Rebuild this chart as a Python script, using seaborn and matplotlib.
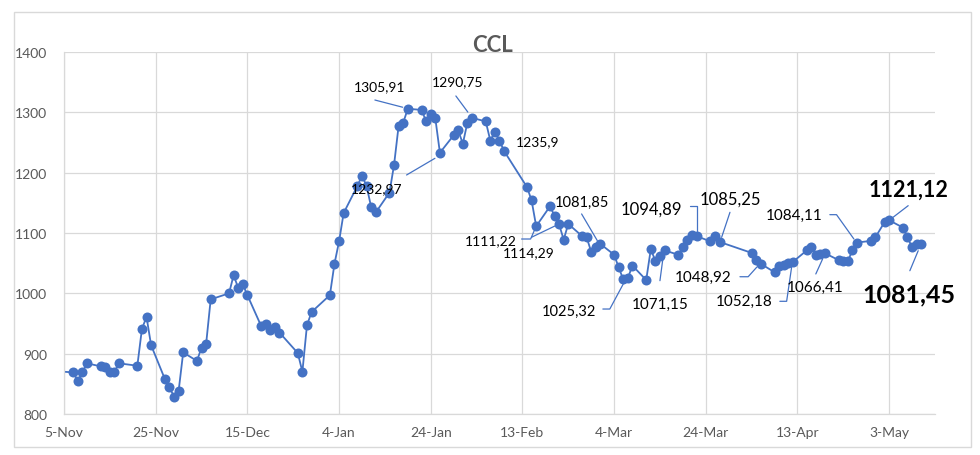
import matplotlib
matplotlib.use("Agg")
import matplotlib.pyplot as plt
import matplotlib.transforms as mtransforms
from matplotlib.lines import Line2D
from matplotlib.patches import Rectangle
import seaborn as sns
import pandas as pd

# ---------------- data ----------------
dates = [
    "2023-11-03", "2023-11-07", "2023-11-08", "2023-11-09", "2023-11-10",
    "2023-11-13", "2023-11-14", "2023-11-15", "2023-11-16", "2023-11-17",
    "2023-11-21", "2023-11-22", "2023-11-23", "2023-11-24",
    "2023-11-27", "2023-11-28", "2023-11-29", "2023-11-30", "2023-12-01",
    "2023-12-04", "2023-12-05", "2023-12-06", "2023-12-07",
    "2023-12-11", "2023-12-12", "2023-12-13", "2023-12-14", "2023-12-15",
    "2023-12-18", "2023-12-19", "2023-12-20", "2023-12-21", "2023-12-22",
    "2023-12-26", "2023-12-27", "2023-12-28", "2023-12-29",
    "2024-01-02", "2024-01-03", "2024-01-04", "2024-01-05",
    "2024-01-08", "2024-01-09", "2024-01-10", "2024-01-11", "2024-01-12",
    "2024-01-15", "2024-01-16", "2024-01-17", "2024-01-18", "2024-01-19",
    "2024-01-22", "2024-01-23", "2024-01-24", "2024-01-25", "2024-01-26",
    "2024-01-29", "2024-01-30", "2024-01-31", "2024-02-01", "2024-02-02",
    "2024-02-05", "2024-02-06", "2024-02-07", "2024-02-08", "2024-02-09",
    "2024-02-14", "2024-02-15", "2024-02-16",
    "2024-02-19", "2024-02-20", "2024-02-21", "2024-02-22", "2024-02-23",
    "2024-02-26", "2024-02-27", "2024-02-28", "2024-02-29", "2024-03-01",
    "2024-03-04", "2024-03-05", "2024-03-06", "2024-03-07", "2024-03-08",
    "2024-03-11", "2024-03-12", "2024-03-13", "2024-03-14", "2024-03-15",
    "2024-03-18", "2024-03-19", "2024-03-20", "2024-03-21", "2024-03-22",
    "2024-03-25", "2024-03-26", "2024-03-27",
    "2024-04-03", "2024-04-04", "2024-04-05",
    "2024-04-08", "2024-04-09", "2024-04-10", "2024-04-11", "2024-04-12",
    "2024-04-15", "2024-04-16", "2024-04-17", "2024-04-18", "2024-04-19",
    "2024-04-22", "2024-04-23", "2024-04-24", "2024-04-25", "2024-04-26",
    "2024-04-29", "2024-04-30", "2024-05-02", "2024-05-03",
    "2024-05-06", "2024-05-07", "2024-05-08", "2024-05-09", "2024-05-10",
]
ccl = [
    871, 869, 855, 869, 884,
    879, 878, 870, 870, 884,
    880, 941, 961, 914,
    858, 844, 829, 838, 902,
    888, 910, 916, 990,
    1000, 1030, 1009, 1015, 997,
    946, 950, 940, 944, 935,
    901, 870, 947, 969,
    997, 1049, 1086, 1133,
    1178, 1195, 1178, 1143, 1134,
    1167, 1213, 1278, 1283, 1305.91,
    1304, 1285, 1297, 1290, 1232.97,
    1262, 1270, 1248, 1283, 1290.75,
    1285, 1253, 1268, 1253, 1235.9,
    1176, 1154, 1111.22,
    1144, 1129, 1114.29, 1089, 1115,
    1095, 1093, 1069, 1076, 1081.85,
    1064, 1043, 1023, 1025.32, 1046,
    1022, 1073, 1054, 1062, 1071.15,
    1064, 1076, 1089, 1097, 1094.89,
    1086, 1095, 1085.25,
    1067, 1055, 1048.92,
    1035, 1045, 1047, 1050, 1052.18,
    1071, 1076, 1063, 1065, 1066.41,
    1055, 1054, 1054, 1071, 1084.11,
    1087, 1093, 1118, 1121.12,
    1109, 1093, 1076, 1082, 1081.45,
]

x_tick_dates = ["2023-11-05", "2023-11-25", "2023-12-15", "2024-01-04", "2024-01-24",
                "2024-02-13", "2024-03-04", "2024-03-24", "2024-04-13", "2024-05-03"]
x_tick_labels = ["5-Nov", "25-Nov", "15-Dec", "4-Jan", "24-Jan",
                 "13-Feb", "4-Mar", "24-Mar", "13-Apr", "3-May"]
y_ticks = [800, 900, 1000, 1100, 1200, 1300, 1400]
x_range = ["2023-11-05", "2024-05-13"]

label_dates = ["2024-01-19", "2024-02-02", "2024-01-26", "2024-02-09", "2024-02-16",
               "2024-02-21", "2024-03-01", "2024-03-07", "2024-03-15", "2024-03-22",
               "2024-03-27", "2024-04-05", "2024-04-12", "2024-04-19", "2024-04-26",
               "2024-05-03", "2024-05-10"]

title = "CCL"

# ---------------- style / layout ----------------
# per label: text offset (pt), leader vertices (pt, relative to point), fontsize, bold
label_style = [
    ((-20.1, 16.4), [(-23.7, 6.3), (-3.7, 1.1)], 10, False),
    ((-10.2, 26.6), [(-11.6, 15.8), (-3.0, 4.2)], 10, False),
    ((-45.4, -25.3), [(-24.0, -16.0), (-3.6, -4.0)], 10, False),
    ((24.2, 7.4), None, 10, False),
    ((-32.8, -9.9), [(-10.5, -9.2), (-4.0, -9.2), (-1.3, -3.0)], 10, False),
    ((-21.5, -20.1), [(-19.9, -9.3), (-3.1, -1.2)], 10, False),
    ((-12.9, 30.5), [(-13.5, 21.6), (-2.2, 2.4)], 10.5, False),
    ((-42.5, -23.8), [(-18.0, -22.3), (-13.0, -22.3), (-2.2, -2.2)], 10.5, False),
    ((-3.0, -38.6), [(-3.3, -21.8), (-0.9, -3.8)], 11, False),
    ((-32.9, 20.0), [(-4.8, 21.5), (0.0, 21.5), (0.0, 3.6)], 12, False),
    ((7.5, 30.9), [(7.5, 21.3), (1.5, 3.3)], 12, False),
    ((-41.5, -9.7), [(-15.0, -9.3), (-9.1, -9.3), (-2.8, -2.3)], 11, False),
    ((-34.8, -28.4), [(-9.4, -28.4), (-4.5, -28.4), (-0.9, -3.7)], 11, False),
    ((-7.3, -24.5), [(-6.6, -14.9), (-1.7, -4.1)], 11, False),
    ((-45.3, 19.9), [(-19.6, 20.1), (-14.8, 20.1), (-2.3, 2.6)], 11, False),
    ((13.7, 22.5), [(13.7, 10.5), (2.9, 2.2)], 15.5, True),
    ((-8.9, -35.9), [(-8.2, -19.1), (-2.2, -4.7)], 18, True),
]

LINE_COLOR = "#4472C4"
GRID_COLOR = "#d9d9d9"
TEXT_GRAY = "#595959"

sns.set_theme(style="white")
plt.rcParams["font.family"] = ["Lato", "DejaVu Sans"]

W, H = 980, 456
fig = plt.figure(figsize=(W / 100, H / 100), dpi=100)
fig.patch.set_facecolor("white")
fig.patches.append(Rectangle((14 / W, 1 - 448 / H), (971 - 14) / W, (448 - 13) / H,
                             transform=fig.transFigure, fill=False,
                             edgecolor=GRID_COLOR, linewidth=1.0))

ax = fig.add_axes([64 / W, 41 / H, 871 / W, 362 / H])
ax.set_facecolor("white")

df = pd.DataFrame({"date": pd.to_datetime(dates), "ccl": ccl})
sns.lineplot(data=df, x="date", y="ccl", ax=ax, color=LINE_COLOR, linewidth=1.3,
             marker="o", markersize=7.2, markeredgewidth=0, markerfacecolor=LINE_COLOR)

ax.set_xlim(pd.to_datetime(x_range[0]), pd.to_datetime(x_range[1]))
ax.set_ylim(y_ticks[0], y_ticks[-1])
ax.set_xticks(pd.to_datetime(x_tick_dates))
ax.set_xticklabels(x_tick_labels)
ax.set_yticks(y_ticks)
ax.set_yticklabels([str(v) for v in y_ticks])
ax.set_xlabel("")
ax.set_ylabel("")
ax.tick_params(axis="both", length=0, labelsize=10, labelcolor=TEXT_GRAY)
ax.tick_params(axis="x", pad=9)
ax.tick_params(axis="y", pad=12)
ax.grid(True, color=GRID_COLOR, linewidth=0.9)
ax.set_axisbelow(True)
for side in ["top", "right"]:
    ax.spines[side].set_visible(False)
for side in ["left", "bottom"]:
    ax.spines[side].set_color(GRID_COLOR)
    ax.spines[side].set_linewidth(0.9)

fig.text(492 / W, 1 - 52 / H, title, ha="center", va="baseline",
         fontsize=16, fontweight="bold", color=TEXT_GRAY)

# annotations
lookup = dict(zip(df["date"], df["ccl"]))
pt_trans = mtransforms.Affine2D().scale(1 / 72) + fig.dpi_scale_trans
for d, (toff, leader, fs, bold) in zip(label_dates, label_style):
    dt = pd.to_datetime(d)
    v = lookup[dt]
    txt = str(v).replace(".", ",")
    ax.annotate(txt, xy=(dt, v), xytext=toff, textcoords="offset points",
                ha="center", va="center", fontsize=fs,
                fontweight="bold" if bold else "normal", color="black",
                annotation_clip=False)
    if leader:
        import matplotlib.dates as mdates
        xnum = mdates.date2num(dt)
        tr = pt_trans + mtransforms.ScaledTranslation(xnum, v, ax.transData)
        xs = [p[0] for p in leader]
        ys = [p[1] for p in leader]
        ln = Line2D(xs, ys, transform=tr, color=LINE_COLOR, linewidth=0.9, clip_on=False)
        ax.add_artist(ln)

fig.savefig("out.png", dpi=100, facecolor="white")
